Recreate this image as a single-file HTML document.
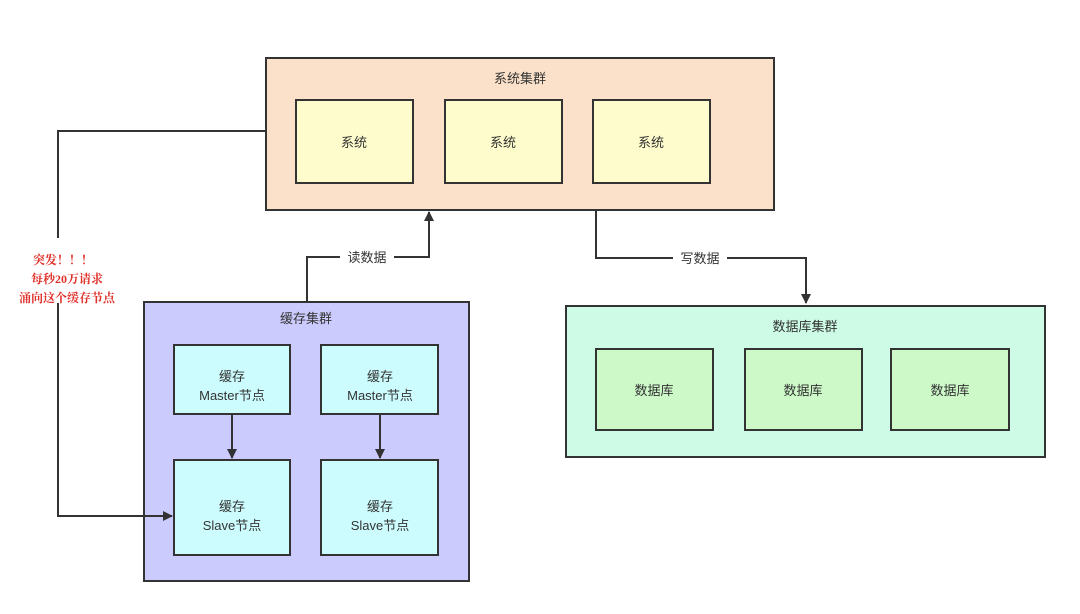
<!DOCTYPE html>
<html><head><meta charset="utf-8"><style>
body{margin:0;background:#fff;}
svg text{font-family:"Liberation Sans","Noto Sans CJK SC",sans-serif;font-size:13px;fill:#333;text-anchor:middle;}
.r{font-family:"Liberation Serif","Noto Serif CJK SC",serif;fill:#e0302a;font-size:12px;font-weight:bold;}
</style></head><body>
<svg width="1080" height="609" xmlns="http://www.w3.org/2000/svg">
<defs><marker id="a" markerWidth="10" markerHeight="10" refX="9" refY="5" orient="auto" markerUnits="userSpaceOnUse"><path d="M0,0 L10,5 L0,10z" fill="#333"/></marker></defs>
<g stroke="#333" stroke-width="2">
<rect x="266" y="58" width="508" height="152" fill="#fbe1c9"/>
<rect x="296" y="100" width="117" height="83" fill="#fefccc"/>
<rect x="445" y="100" width="117" height="83" fill="#fefccc"/>
<rect x="593" y="100" width="117" height="83" fill="#fefccc"/>
<rect x="144" y="302" width="325" height="279" fill="#cbcbfd"/>
<rect x="174" y="345" width="116" height="69" fill="#ccfcfd"/>
<rect x="321" y="345" width="117" height="69" fill="#ccfcfd"/>
<rect x="174" y="460" width="116" height="95" fill="#ccfcfd"/>
<rect x="321" y="460" width="117" height="95" fill="#ccfcfd"/>
<rect x="566" y="306" width="479" height="151" fill="#cdfbe6"/>
<rect x="596" y="349" width="117" height="81" fill="#cdf9c9"/>
<rect x="745" y="349" width="117" height="81" fill="#cdf9c9"/>
<rect x="891" y="349" width="118" height="81" fill="#cdf9c9"/>
<g fill="none">
<path d="M266,131 H58 V238 M58,303 V516 H172" marker-end="url(#a)"/>
<path d="M307,302 V257 H429 V212" marker-end="url(#a)"/>
<path d="M596,210 V258 H806 V303" marker-end="url(#a)"/>
<path d="M232,414 V458" marker-end="url(#a)"/>
<path d="M380,414 V458" marker-end="url(#a)"/>
</g></g>
<rect x="340" y="248" width="54" height="18" fill="#fff"/>
<rect x="673" y="249" width="54" height="18" fill="#fff"/>
<text x="520" y="83">系统集群</text>
<text x="354" y="147">系统</text><text x="503" y="147">系统</text><text x="651" y="147">系统</text>
<text x="367" y="262">读数据</text>
<text x="700" y="263">写数据</text>
<text x="306" y="323">缓存集群</text>
<text x="232" y="381">缓存</text><text x="232" y="400">Master节点</text>
<text x="380" y="381">缓存</text><text x="380" y="400">Master节点</text>
<text x="232" y="511">缓存</text><text x="232" y="530">Slave节点</text>
<text x="380" y="511">缓存</text><text x="380" y="530">Slave节点</text>
<text x="805" y="331">数据库集群</text>
<text x="654" y="395">数据库</text><text x="803" y="395">数据库</text><text x="950" y="395">数据库</text>
<text class="r" x="63" y="264">突发！！！</text>
<text class="r" x="67" y="283">每秒20万请求</text>
<text class="r" x="67" y="302">涌向这个缓存节点</text>
</svg>
</body></html>
